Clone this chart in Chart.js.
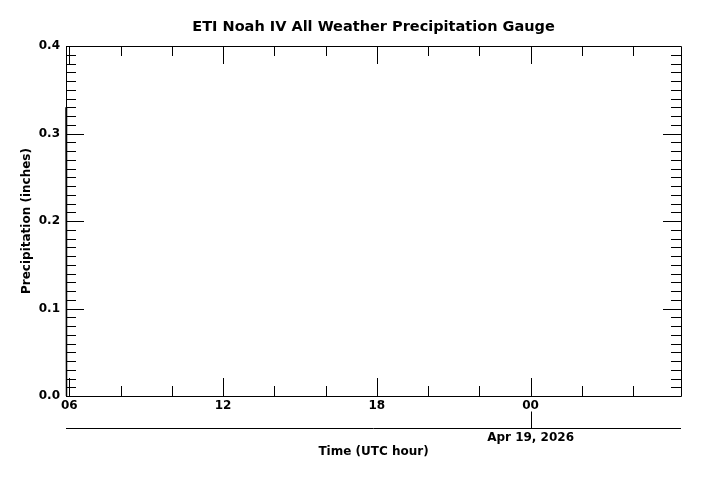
<!DOCTYPE html>
<html>
<head>
<meta charset="utf-8">
<script src="https://cdn.jsdelivr.net/npm/chart.js@4/dist/chart.umd.min.js"></script>
<style>
html,body{margin:0;padding:0;background:#fff;}
#wrap{width:703px;height:477px;}
</style>
</head>
<body>
<div id="wrap"><canvas id="c" width="703" height="477"></canvas></div>
<script>
// Data (UTC hours; 24 = 00 on Apr 19, 2026)
const timeHours = [5.87, 5.89];
const precipInches = [0.33, 0.0];
const xRange = [5.87, 29.87];
const xMajorTicks = [6, 12, 18, 24];
const xMajorLabels = ['06', '12', '18', '00'];
const xMinorTicks = [8, 10, 14, 16, 20, 22, 26, 28];
const yMajorTicks = [0.0, 0.1, 0.2, 0.3, 0.4];
const yMinorStep = 0.01;
const dateTick = 24;
const dateLabel = 'Apr 19, 2026';
const chartTitle = 'ETI Noah IV All Weather Precipitation Gauge';

const FONT = '"DejaVu Sans", sans-serif';

const framePlugin = {
  id: 'frame',
  afterDraw(chart) {
    const ctx = chart.ctx;
    const a = chart.chartArea;
    const xs = chart.scales.x, ys = chart.scales.y, x2 = chart.scales.x2;
    ctx.save();
    ctx.fillStyle = '#000';
    ctx.font = 'bold 14.5px ' + FONT;
    ctx.textAlign = 'center';
    ctx.textBaseline = 'middle';
    ctx.fillText(chartTitle, (a.left + a.right) / 2, 27);

    ctx.strokeStyle = '#000';
    ctx.lineWidth = 1;
    ctx.beginPath();
    ctx.rect(Math.round(a.left) + 0.5, Math.round(a.top) + 0.5, Math.round(a.right - a.left), Math.round(a.bottom - a.top));
    ctx.stroke();
    const line = (x1, y1, x2_, y2) => { ctx.beginPath(); ctx.moveTo(x1, y1); ctx.lineTo(x2_, y2); ctx.stroke(); };
    const px = v => Math.round(xs.getPixelForValue(v)) + 0.5;
    xMajorTicks.forEach(v => { const p = px(v); line(p, a.bottom, p, a.bottom - 18); line(p, a.top, p, a.top + 18); });
    xMinorTicks.forEach(v => { const p = px(v); line(p, a.bottom, p, a.bottom - 10); line(p, a.top, p, a.top + 10); });
    const py = v => Math.round(ys.getPixelForValue(v)) + 0.5;
    yMajorTicks.forEach(v => { const p = py(v); line(a.left, p, a.left + 18, p); line(a.right, p, a.right - 18, p); });
    for (let i = 0; i <= 40; i++) {
      if (i % 10 === 0) continue;
      const p = py(i * yMinorStep);
      line(a.left, p, a.left + 10, p); line(a.right, p, a.right - 10, p);
    }
    const yl = Math.round(x2.top) + 0.5;
    line(a.left, yl, a.right, yl);
    const pd = px(dateTick);
    line(pd, yl, pd, yl - 17);
    ctx.restore();
  }
};

const noGrid = { display: false, drawTicks: false, tickLength: 0 };

new Chart(document.getElementById('c'), {
  type: 'line',
  data: {
    datasets: [{
      data: timeHours.map((t, i) => ({x: t, y: precipInches[i]})),
      borderColor: '#000',
      borderWidth: 1.5,
      pointRadius: 0,
      tension: 0,
      fill: false,
      clip: 3
    }]
  },
  options: {
    responsive: false,
    animation: false,
    devicePixelRatio: 1,
    layout: { padding: { left: 0, right: 22, top: 46, bottom: 0 } },
    plugins: {
      legend: { display: false },
      tooltip: { enabled: false },
      title: { display: false }
    },
    scales: {
      x: {
        type: 'linear',
        position: 'bottom',
        min: xRange[0], max: xRange[1],
        grid: noGrid,
        border: { display: false },
        afterBuildTicks(s) { s.ticks = xMajorTicks.map(v => ({value: v})); },
        afterFit(s) { s.height = 32; },
        ticks: {
          autoSkip: false, maxRotation: 0, padding: 3, color: '#000',
          font: { family: FONT, size: 12, weight: 'bold' },
          callback: (v) => { const i = xMajorTicks.indexOf(v); return i >= 0 ? xMajorLabels[i] : ''; }
        }
      },
      x2: {
        type: 'linear',
        position: 'bottom',
        min: xRange[0], max: xRange[1],
        grid: noGrid,
        border: { display: false },
        afterBuildTicks(s) { s.ticks = [{value: dateTick}]; },
        afterFit(s) { s.height = 49; },
        ticks: {
          autoSkip: false, maxRotation: 0, padding: 3, color: '#000',
          font: { family: FONT, size: 12, weight: 'bold' },
          callback: () => dateLabel
        },
        title: {
          display: true, text: 'Time (UTC hour)', color: '#000',
          font: { family: FONT, size: 12, weight: 'bold' },
          padding: { top: 0, bottom: 18 }
        }
      },
      y: {
        type: 'linear',
        position: 'left',
        min: 0, max: 0.4,
        grid: noGrid,
        border: { display: false },
        afterBuildTicks(s) { s.ticks = yMajorTicks.map(v => ({value: v})); },
        afterFit(s) { s.width = 66; },
        ticks: {
          padding: 6, color: '#000',
          font: { family: FONT, size: 12, weight: 'bold' },
          callback: (v) => Number(v).toFixed(1)
        },
        title: {
          display: true, text: 'Precipitation (inches)', color: '#000',
          font: { family: FONT, size: 12, weight: 'bold' },
          padding: { top: 20, bottom: 0 }
        }
      }
    }
  },
  plugins: [framePlugin]
});
</script>
</body>
</html>
